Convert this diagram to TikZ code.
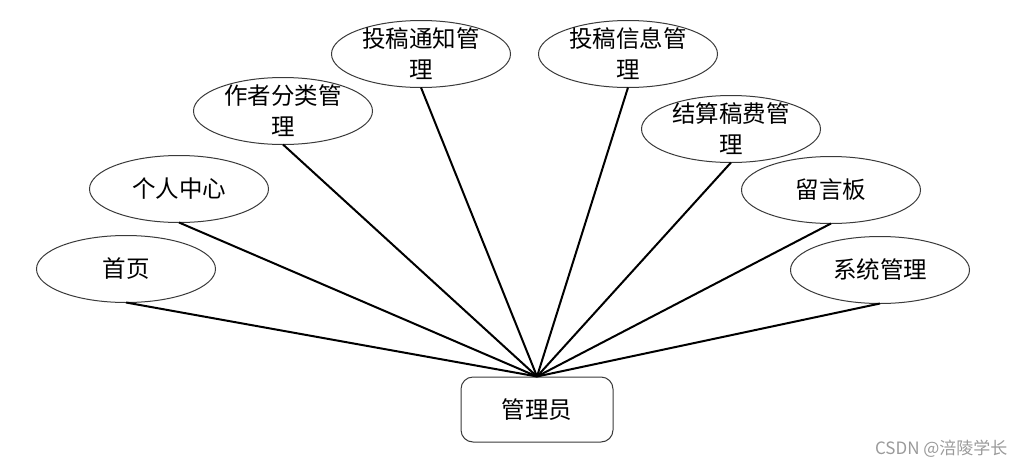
\documentclass[tikz,border=0pt]{standalone}
\usepackage{fontspec}
\newfontfamily\cjk{Noto Sans CJK SC}
\usetikzlibrary{positioning,shapes.geometric}
\definecolor{glborda}{HTML}{3A3A3A}
\definecolor{glmarca}{HTML}{9A9A9A}
\tikzset{
  glyuan/.style={shape=ellipse, draw=glborda, line width=1pt, fill=white, align=center,
                 font=\cjk\fontsize{23.5}{31}\selectfont, inner xsep=0pt, inner ysep=-8pt,
                 minimum width=179pt, minimum height=67pt, outer sep=0pt},
  glkuang/.style={draw=glborda, line width=1pt, rounded corners=12pt, fill=white,
                 font=\cjk\fontsize{23.5}{26}\selectfont, minimum width=152pt, minimum height=65pt},
  glxian/.style={line width=2pt, draw=black},
  glmarcatexto/.style={font=\cjk\fontsize{17}{19}\selectfont, text=glmarca},
}
\begin{document}
\begin{tikzpicture}[x=1pt, y=-1pt]
        \useasboundingbox (0,0) rectangle (1027,466);
        % ---------------- funcoes do administrador ----------------
        \node[glyuan] (f1) at (126,269) {首页};
        \node[glyuan] (f2) at (179,189) {个人中心};
        \node[glyuan] (f3) at (283,111) {作者分类管\\理};
        \node[glyuan] (f4) at (421,54) {投稿通知管\\理};
        \node[glyuan] (f5) at (628,54) {投稿信息管\\理};
        \node[glyuan] (f6) at (731,129) {结算稿费管\\理};
        \node[glyuan] (f7) at (831,190) {留言板};
        \node[glyuan] (f8) at (880,270) {系统管理};
        \node[glkuang] (adm) at (537,409.5) {管理员};
        \foreach \i in {1,...,8} {\draw[glxian] (f\i.south) -- (adm.north);}
        % ---------------- marca ----------------
        \node[glmarcatexto, anchor=east] (marca) at (1011,449) {CSDN @涪陵学长};
    \end{tikzpicture}
\end{document}
